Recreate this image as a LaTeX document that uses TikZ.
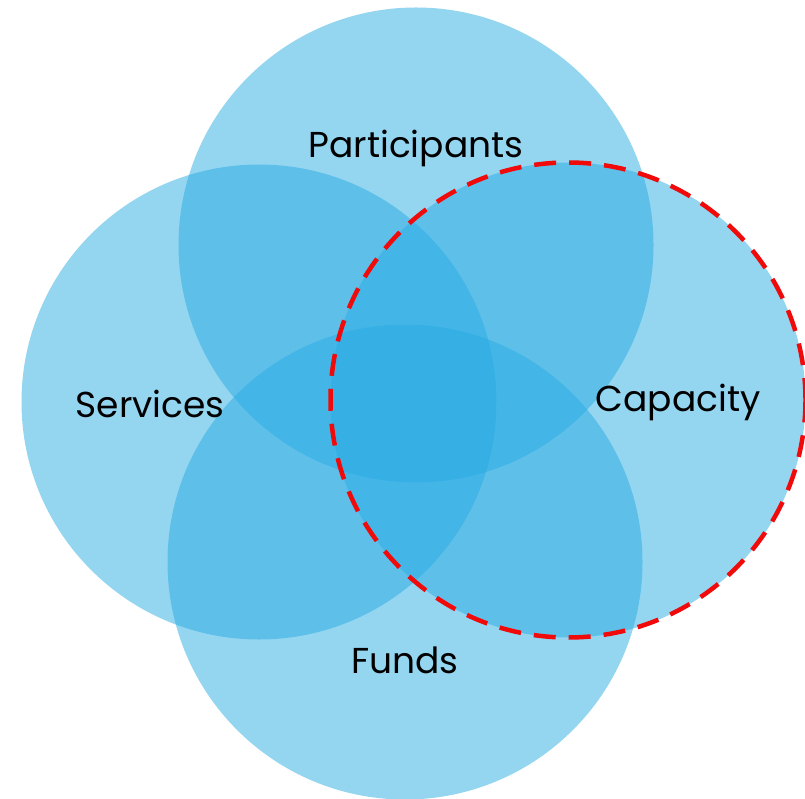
\documentclass[tikz,border=0pt]{standalone}
\usepackage{fontspec}
\setmainfont{Poppins}
\usetikzlibrary{positioning}

\begin{document}
\begin{tikzpicture}[x=1pt, y=-1pt,
                    setnode/.style={circle, fill={rgb,255:red,41;green,171;blue,226}, fill opacity=0.5, inner sep=0pt, minimum size=475pt},
                    focusnode/.style={setnode, draw={rgb,255:red,240;green,10;blue,10}, draw opacity=1, line width=4.5pt, dash pattern=on 22pt off 13pt},
                    labelnode/.style={font=\fontsize{36}{40}\selectfont, text=black}]
    \useasboundingbox (0,0) rectangle (805,799);
    % circles
    \node[setnode]      (participants)  at (416,245)  {};
    \node[setnode]      (services)      at (259,402)  {};
    \node[setnode]      (funds)         at (405,562)  {};
    \node[focusnode]    (capacity)      at (568,400)  {};
    % labels
    \node[labelnode]    (participantsL) at (416,148)  {Participants};
    \node[labelnode]    (servicesL)     at (150,404)  {Services};
    \node[labelnode]    (capacityL)     at (678,402)  {Capacity};
    \node[labelnode]    (fundsL)        at (405,660)  {Funds};
\end{tikzpicture}
\end{document}
